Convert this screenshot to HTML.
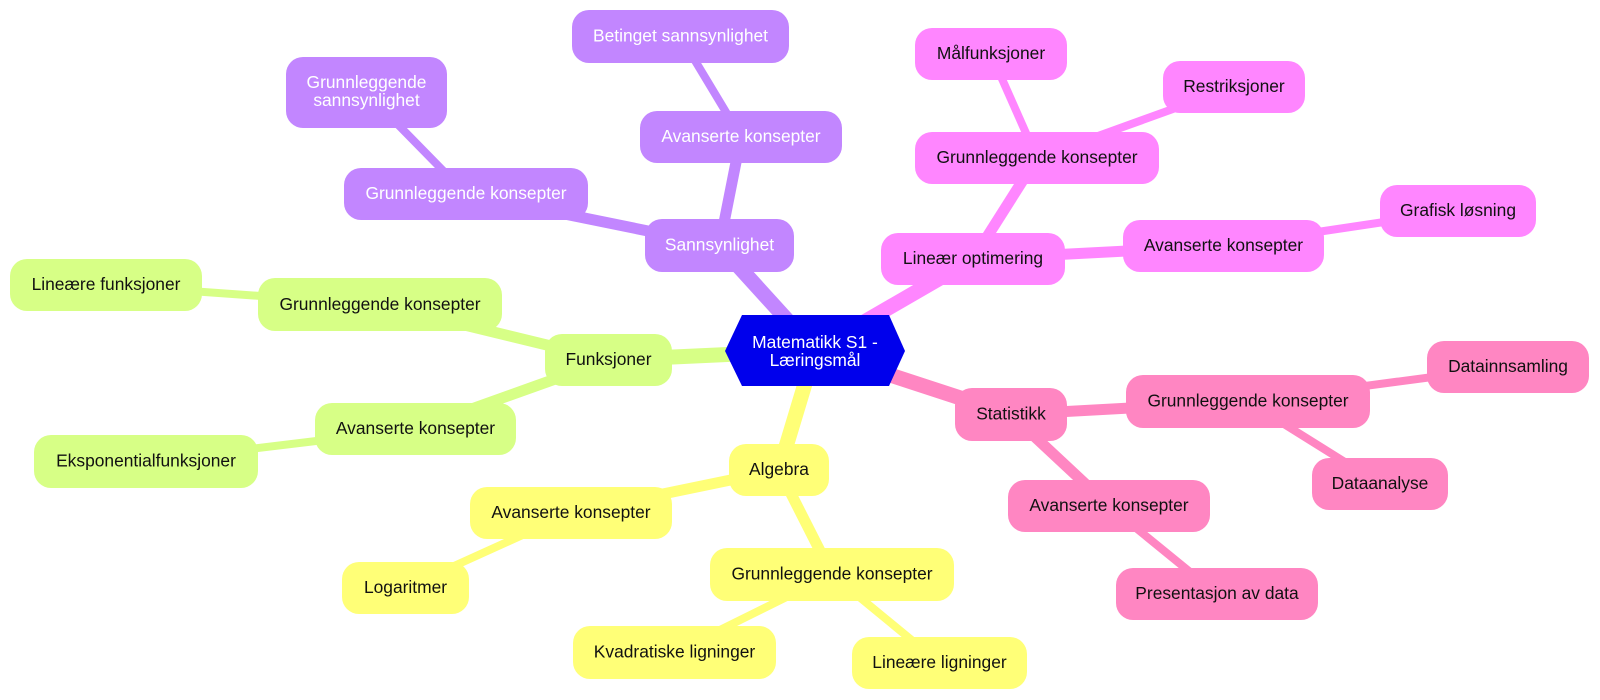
<!DOCTYPE html>
<html>
<head>
<meta charset="utf-8">
<style>
  html,body{margin:0;padding:0;background:#ffffff;}
  svg{display:block;}
  text{font-family:"Liberation Sans", Arial, sans-serif;font-size:17.4px;text-anchor:middle;}
  .dk{fill:#111111;}
  .lt{fill:#ffffff;}
</style>
</head>
<body>
<svg width="1600" height="700" viewBox="0 0 1600 700" xmlns="http://www.w3.org/2000/svg">
  <!-- edges -->
  <g stroke-linecap="butt" fill="none">
    <!-- green -->
    <line x1="815" y1="350.5" x2="608.5" y2="360" stroke="#d7ff86" stroke-width="15"/>
    <line x1="608.5" y1="360" x2="380" y2="304.5" stroke="#d7ff86" stroke-width="11"/>
    <line x1="608.5" y1="360" x2="415.5" y2="429" stroke="#d7ff86" stroke-width="11"/>
    <line x1="380" y1="304.5" x2="106" y2="285" stroke="#d7ff86" stroke-width="8"/>
    <line x1="415.5" y1="429" x2="146" y2="461.5" stroke="#d7ff86" stroke-width="8"/>
    <!-- yellow -->
    <line x1="815" y1="350.5" x2="779" y2="470" stroke="#ffff77" stroke-width="15"/>
    <line x1="779" y1="470" x2="571" y2="513" stroke="#ffff77" stroke-width="11"/>
    <line x1="779" y1="470" x2="832" y2="574.5" stroke="#ffff77" stroke-width="11"/>
    <line x1="571" y1="513" x2="405.5" y2="588" stroke="#ffff77" stroke-width="8"/>
    <line x1="832" y1="574.5" x2="674.5" y2="652.5" stroke="#ffff77" stroke-width="8"/>
    <line x1="832" y1="574.5" x2="939.5" y2="663" stroke="#ffff77" stroke-width="8"/>
    <!-- purple -->
    <line x1="815" y1="350.5" x2="719.5" y2="245.5" stroke="#c286ff" stroke-width="15"/>
    <line x1="719.5" y1="245.5" x2="466" y2="194" stroke="#c286ff" stroke-width="11"/>
    <line x1="719.5" y1="245.5" x2="741" y2="137" stroke="#c286ff" stroke-width="11"/>
    <line x1="466" y1="194" x2="366.5" y2="92.5" stroke="#c286ff" stroke-width="8"/>
    <line x1="741" y1="137" x2="680.5" y2="36.5" stroke="#c286ff" stroke-width="8"/>
    <!-- magenta -->
    <line x1="815" y1="350.5" x2="973" y2="259" stroke="#ff86ff" stroke-width="15"/>
    <line x1="973" y1="259" x2="1037" y2="158" stroke="#ff86ff" stroke-width="11"/>
    <line x1="973" y1="259" x2="1223.5" y2="246" stroke="#ff86ff" stroke-width="11"/>
    <line x1="1037" y1="158" x2="991" y2="54" stroke="#ff86ff" stroke-width="8"/>
    <line x1="1037" y1="158" x2="1234" y2="87" stroke="#ff86ff" stroke-width="8"/>
    <line x1="1223.5" y1="246" x2="1458" y2="211" stroke="#ff86ff" stroke-width="8"/>
    <!-- rose -->
    <line x1="815" y1="350.5" x2="1011" y2="414.5" stroke="#ff86c2" stroke-width="15"/>
    <line x1="1011" y1="414.5" x2="1248" y2="401.5" stroke="#ff86c2" stroke-width="11"/>
    <line x1="1011" y1="414.5" x2="1109" y2="506" stroke="#ff86c2" stroke-width="11"/>
    <line x1="1248" y1="401.5" x2="1508" y2="367" stroke="#ff86c2" stroke-width="8"/>
    <line x1="1248" y1="401.5" x2="1380" y2="484" stroke="#ff86c2" stroke-width="8"/>
    <line x1="1109" y1="506" x2="1217" y2="594" stroke="#ff86c2" stroke-width="8"/>
  </g>

  <!-- root -->
  <polygon points="725,351 742,315 889,315 905,351 889,386 742,386" fill="#0000ec"/>
  <text class="lt" x="815" y="348">Matematikk S1 -</text>
  <text class="lt" x="815" y="366">Læringsmål</text>

  <!-- green nodes -->
  <g fill="#d7ff86">
    <rect x="545" y="334" width="127" height="52" rx="17"/>
    <rect x="258" y="278" width="244" height="53" rx="17"/>
    <rect x="10" y="259" width="192" height="52" rx="17"/>
    <rect x="315" y="403" width="201" height="52" rx="17"/>
    <rect x="34" y="435" width="224" height="53" rx="17"/>
  </g>
  <text class="dk" x="608.5" y="365">Funksjoner</text>
  <text class="dk" x="380" y="310">Grunnleggende konsepter</text>
  <text class="dk" x="106" y="290">Lineære funksjoner</text>
  <text class="dk" x="415.5" y="434">Avanserte konsepter</text>
  <text class="dk" x="146" y="466.5">Eksponentialfunksjoner</text>

  <!-- yellow nodes -->
  <g fill="#ffff77">
    <rect x="729" y="444" width="100" height="52" rx="17"/>
    <rect x="470" y="487" width="202" height="52" rx="17"/>
    <rect x="342" y="562" width="127" height="52" rx="17"/>
    <rect x="710" y="548" width="244" height="53" rx="17"/>
    <rect x="573" y="626" width="203" height="53" rx="17"/>
    <rect x="852" y="637" width="175" height="52" rx="17"/>
  </g>
  <text class="dk" x="779" y="475">Algebra</text>
  <text class="dk" x="571" y="518">Avanserte konsepter</text>
  <text class="dk" x="405.5" y="593">Logaritmer</text>
  <text class="dk" x="832" y="579.5">Grunnleggende konsepter</text>
  <text class="dk" x="674.5" y="657.5">Kvadratiske ligninger</text>
  <text class="dk" x="939.5" y="668">Lineære ligninger</text>

  <!-- purple nodes -->
  <g fill="#c286ff">
    <rect x="645" y="219" width="149" height="53" rx="17"/>
    <rect x="344" y="168" width="244" height="52" rx="17"/>
    <rect x="286" y="57" width="161" height="71" rx="17"/>
    <rect x="640" y="111" width="202" height="52" rx="17"/>
    <rect x="572" y="10" width="217" height="53" rx="17"/>
  </g>
  <text class="lt" x="719.5" y="250.5">Sannsynlighet</text>
  <text class="lt" x="466" y="199">Grunnleggende konsepter</text>
  <text class="lt" x="366.5" y="88">Grunnleggende</text>
  <text class="lt" x="366.5" y="106">sannsynlighet</text>
  <text class="lt" x="741" y="142">Avanserte konsepter</text>
  <text class="lt" x="680.5" y="41.5">Betinget sannsynlighet</text>

  <!-- magenta nodes -->
  <g fill="#ff86ff">
    <rect x="881" y="233" width="184" height="52" rx="17"/>
    <rect x="915" y="132" width="244" height="52" rx="17"/>
    <rect x="915" y="28" width="152" height="52" rx="17"/>
    <rect x="1163" y="61" width="142" height="52" rx="17"/>
    <rect x="1123" y="220" width="201" height="52" rx="17"/>
    <rect x="1380" y="185" width="156" height="52" rx="17"/>
  </g>
  <text class="dk" x="973" y="264">Lineær optimering</text>
  <text class="dk" x="1037" y="163">Grunnleggende konsepter</text>
  <text class="dk" x="991" y="59">Målfunksjoner</text>
  <text class="dk" x="1234" y="92">Restriksjoner</text>
  <text class="dk" x="1223.5" y="251">Avanserte konsepter</text>
  <text class="dk" x="1458" y="216">Grafisk løsning</text>

  <!-- rose nodes -->
  <g fill="#ff86c2">
    <rect x="955" y="388" width="112" height="53" rx="17"/>
    <rect x="1126" y="375" width="244" height="53" rx="17"/>
    <rect x="1427" y="341" width="162" height="52" rx="17"/>
    <rect x="1312" y="458" width="136" height="52" rx="17"/>
    <rect x="1008" y="480" width="202" height="52" rx="17"/>
    <rect x="1116" y="568" width="202" height="52" rx="17"/>
  </g>
  <text class="dk" x="1011" y="419.5">Statistikk</text>
  <text class="dk" x="1248" y="406.5">Grunnleggende konsepter</text>
  <text class="dk" x="1508" y="372">Datainnsamling</text>
  <text class="dk" x="1380" y="489">Dataanalyse</text>
  <text class="dk" x="1109" y="511">Avanserte konsepter</text>
  <text class="dk" x="1217" y="599">Presentasjon av data</text>
</svg>
</body>
</html>
